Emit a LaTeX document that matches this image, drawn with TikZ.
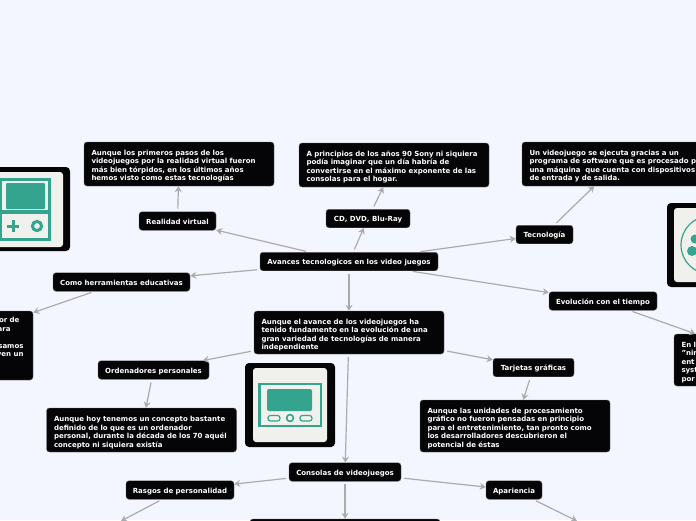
\documentclass[tikz,border=0pt]{standalone}
\usepackage{fontspec}
\setmainfont{DejaVu Sans}
\usetikzlibrary{arrows.meta}
\definecolor{pagebg}{HTML}{F4F6FF}
\definecolor{boxfill}{HTML}{050508}
\definecolor{linkgray}{HTML}{ABABAB}
\definecolor{iconteal}{HTML}{35A48E}
\definecolor{iconcream}{HTML}{F0F1EC}
\tikzset{
  boxbase/.style={draw=linkgray!60!black,line width=0.4pt,fill=boxfill,text=white,rounded corners=3pt,
    font=\fontsize{7}{8.5}\selectfont\bfseries,inner sep=0pt},
  topic/.style={boxbase,minimum height=18.5pt,text height=6pt,text depth=0pt},
  note/.style={boxbase,align=left,text width=175pt,minimum width=190pt,
    execute at begin node={\par\vspace*{1.5pt}}},
  link/.style={draw=linkgray,line width=1.2pt,shorten <=3pt,-{Stealth[length=6pt,width=7pt]}}
}
\begin{document}
\begin{tikzpicture}[x=1pt,y=-1pt]
  \useasboundingbox (0,0) rectangle (696,520);
  \clip (0,0) rectangle (696,520);
  \fill[pagebg] (0,0) rectangle (696,520);
  % icons
  \begin{scope}[xshift=-20pt,yshift=-167pt]
    \fill[boxfill,rounded corners=4pt] (0,0) rectangle (90,84);
    \fill[iconcream,rounded corners=3pt] (8,5) rectangle (83,80);
    \fill[iconteal] (19,11) rectangle (71,74);
    \fill[iconcream] (22,14) rectangle (68,71);
    \fill[iconteal] (19,43) rectangle (71,47);
    \fill[iconteal,rounded corners=1pt] (26,16) rectangle (65,42);
    \fill[iconteal] (27,57.5) rectangle (39,60.5);
    \fill[iconteal] (31.5,53) rectangle (34.5,65);
    \draw[iconteal,line width=3pt] (57,59) circle (4.6);
  \end{scope}
  \begin{scope}[xshift=245pt,yshift=-363pt]
    \fill[boxfill,rounded corners=4pt] (0,0) rectangle (90,84);
    \fill[iconcream,rounded corners=3pt] (8,5) rectangle (82,79);
    \draw[iconteal,line width=2.4pt] (14.5,21) rectangle (76,63);
    \fill[iconteal,rounded corners=2pt] (22,26) rectangle (67,48);
    \draw[iconteal,line width=1.2pt,rounded corners=2.5pt] (23,52.5) rectangle (35,58);
    \draw[iconteal,line width=1.6pt] (45,55) circle (3.4);
    \draw[iconteal,line width=1.2pt,rounded corners=2.5pt] (55,52.5) rectangle (67,58);
  \end{scope}
  \begin{scope}[xshift=667pt,yshift=-203pt]
    \fill[boxfill,rounded corners=4pt] (0,0) rectangle (90,84);
    \fill[iconcream,rounded corners=3pt] (7,5) rectangle (83,79);
    \draw[iconteal,line width=1.2pt] (43,42) circle (29);
    \fill[iconteal] (25,48) circle (5);
    \fill[iconteal] (28,36) circle (4.5);
  \end{scope}
  % central topic
  \node[topic,minimum width=178pt] (root) at (349,261.5) {Avances tecnologicos en los video juegos};
  % upper branches
  \node[topic,minimum width=77pt] (virtual) at (177.5,221) {Realidad virtual};
  \node[note,minimum height=44pt] (virtualnote) at (179,164) {Aunque los primeros pasos de los\\videojuegos por la realidad virtual fueron\\más bien tórpidos, en los últimos años\\hemos visto como estas tecnologías};
  \node[topic,minimum width=84pt] (disc) at (368,218.5) {CD, DVD, Blu-Ray};
  \node[note,minimum height=44pt] (discnote) at (394,165) {A principios de los años 90 Sony ni siquiera\\podía imaginar que un día habría de\\convertirse en el máximo exponente de las\\consolas para el hogar.};
  \node[topic,minimum width=57pt] (tech) at (544.5,234.5) {Tecnología};
  \node[note,minimum height=44pt] (technote) at (617,164) {Un videojuego se ejecuta gracias a un\\programa de software que es procesado p\\una máquina\ \ que cuenta con dispositivos\\de entrada y de salida.};
  \node[topic,minimum width=137pt] (school) at (121.5,282) {Como herramientas educativas};
  \node[note,minimum height=69pt,align=right] (schoolnote) at (-62,345.5) {or de\mbox{\hspace{6pt}}\\ara\mbox{\hspace{15pt}}\\\mbox{}\\samos\mbox{\hspace{2pt}}\\ven un\mbox{\hspace{2pt}}\\\mbox{}\\[5pt]\mbox{}};
  \node[topic,minimum width=108pt] (evolution) at (603,301) {Evolución con el tiempo};
  \node[note,minimum height=52pt] (evolutionnote) at (769,360) {En l\\"nin\\ent\\syst\\por};
  % middle branch
  \node[note,minimum height=43pt] (advance) at (349,332.5) {Aunque el avance de los videojuegos ha\\tenido fundamento en la evolución de una\\gran variedad de tecnologías de manera\\independiente};
  \node[topic,minimum width=111pt] (desktop) at (153.5,370) {Ordenadores personales};
  \node[note,minimum height=44pt] (desktopnote) at (141.5,430) {Aunque hoy tenemos un concepto bastante\\definido de lo que es un ordenador\\personal, durante la década de los 70 aquél\\concepto ni siquiera existía};
  \node[topic,minimum width=81pt] (cards) at (533.5,367.5) {Tarjetas gráficas};
  \node[note,minimum height=52pt] (cardsnote) at (515,426) {Aunque las unidades de procesamiento\\gráfico no fueron pensadas en principio\\para el entretenimiento, tan pronto como\\los desarrolladores descubrieron el\\potencial de éstas};
  % lower branch
  \node[topic,minimum width=112pt] (console) at (345,472) {Consolas de videojuegos};
  \node[topic,minimum width=108pt] (traits) at (180,490) {Rasgos de personalidad};
  \node[topic,minimum width=56pt] (looks) at (514,490) {Apariencia};
  \node[note,minimum height=40pt] (consolenote) at (345,539) {};
  \coordinate (traitsnote) at (121,521);
  \coordinate (looksnote) at (577,521);
  % links
  \draw[link] (root) -- (virtual);
  \draw[link] (virtual) -- (virtualnote);
  \draw[link] (root) -- (disc);
  \draw[link] (disc) -- (discnote);
  \draw[link] (root) -- (tech);
  \draw[link] (tech) -- (technote);
  \draw[link] (root) -- (school);
  \draw[link] (school) -- (schoolnote);
  \draw[link] (root) -- (evolution);
  \draw[link] (evolution) -- (evolutionnote);
  \draw[link] (root) -- (advance);
  \draw[link] (advance) -- (desktop);
  \draw[link] (desktop) -- (desktopnote);
  \draw[link] (advance) -- (cards);
  \draw[link] (cards) -- (cardsnote);
  \draw[link] (advance) -- (console);
  \draw[link] (console) -- (traits);
  \draw[link] (console) -- (looks);
  \draw[link] (console) -- (consolenote);
  \draw[link] (traits) -- (traitsnote);
  \draw[link] (looks) -- (looksnote);
\end{tikzpicture}
\end{document}
